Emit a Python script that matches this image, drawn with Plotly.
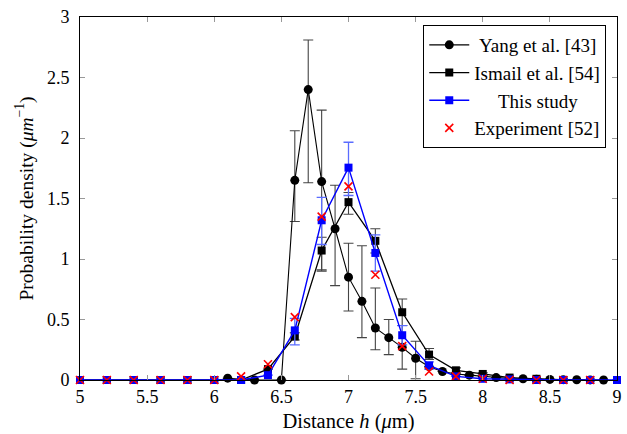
import plotly.graph_objects as go

# Yang et al. [43]
yang_x = [6.1, 6.3, 6.5, 6.6, 6.7, 6.8, 6.9, 7.0, 7.1, 7.2, 7.3, 7.4, 7.5, 7.6, 7.7,
          7.8, 7.9, 8.0, 8.1, 8.2, 8.3, 8.4, 8.5, 8.6, 8.7, 8.8, 8.9]
yang_y = [0.015, 0.0, 0.0, 1.65, 2.40, 1.64, 1.25, 0.85, 0.65, 0.43, 0.35, 0.27, 0.18, 0.11, 0.07,
          0.05, 0.04, 0.03, 0.02, 0.012, 0.01, 0.006, 0.005, 0.003, 0.002, 0.001, 0.0]
yang_err_up = [0, 0, 0, 0.41, 0.41, 0.59, 0.36, 0.28, 0.46, 0.33, 0.15, 0.18, 0.14, 0, 0,
               0, 0, 0, 0, 0, 0, 0, 0, 0, 0, 0, 0]
yang_err_dn = [0, 0, 0, 0.34, 0.77, 0.74, 0.47, 0.28, 0.30, 0.18, 0.14, 0.18, 0.17, 0, 0,
               0, 0, 0, 0, 0, 0, 0, 0, 0, 0, 0, 0]

# Ismail et al. [54]
ism_x = [5.0, 5.2, 5.4, 5.6, 5.8, 6.0, 6.2, 6.4, 6.6, 6.8, 7.0, 7.2, 7.4, 7.6, 7.8, 8.0,
         8.2, 8.4, 8.6, 8.8]
ism_y = [0, 0, 0, 0, 0, 0, 0.0, 0.09, 0.36, 1.07, 1.47, 1.15, 0.56, 0.21, 0.08, 0.05,
         0.02, 0.01, 0.0, 0.0]
ism_err_up = [0, 0, 0, 0, 0, 0, 0, 0, 0.03, 0.11, 0.08, 0.10, 0.11, 0.05, 0.02, 0.01,
              0, 0, 0, 0]
ism_err_dn = [0, 0, 0, 0, 0, 0, 0, 0, 0.03, 0.16, 0.10, 0.10, 0.11, 0.04, 0.02, 0.01,
              0, 0, 0, 0]

# This study
this_x = [5.0, 5.2, 5.4, 5.6, 5.8, 6.0, 6.2, 6.4, 6.6, 6.8, 7.0, 7.2, 7.4, 7.6, 7.8, 8.0,
          8.2, 8.4, 8.6, 8.8, 9.0]
this_y = [0, 0, 0, 0, 0, 0, 0.0, 0.04, 0.41, 1.32, 1.755, 1.05, 0.37, 0.12, 0.03, 0.01,
          0.005, 0.0, 0.0, 0.0, 0.0]
this_err_up = [0, 0, 0, 0, 0, 0, 0, 0, 0.10, 0.19, 0.21, 0.15, 0.08, 0.03, 0, 0,
               0, 0, 0, 0, 0]
this_err_dn = [0, 0, 0, 0, 0, 0, 0, 0, 0.12, 0.20, 0.23, 0.15, 0.08, 0.03, 0, 0,
               0, 0, 0, 0, 0]

# Experiment [52]
exp_x = [5.0, 5.2, 5.4, 5.6, 5.8, 6.0, 6.2, 6.4, 6.6, 6.8, 7.0, 7.2, 7.4, 7.6, 7.8, 8.0,
         8.2, 8.4, 8.6, 8.8]
exp_y = [0, 0, 0, 0, 0, 0, 0.03, 0.13, 0.52, 1.35, 1.60, 0.87, 0.28, 0.07, 0.03, 0.01,
         0.0, 0.0, 0.0, 0.0]

x_ticks = [5, 5.5, 6, 6.5, 7, 7.5, 8, 8.5, 9]
y_ticks = [0, 0.5, 1, 1.5, 2, 2.5, 3]

series_names = ["Yang et al. [43]", "Ismail et al. [54]", "This study", "Experiment [52]"]
# leading non-breaking spaces to emulate centred legend text
name_pad = [1, 0, 5, 0]

FONT = "Liberation Serif"

def label(i):
    return "&nbsp;" * name_pad[i] + series_names[i]

fig = go.Figure()
fig.add_trace(go.Scatter(
    x=yang_x, y=yang_y, mode="lines+markers", name=label(0),
    line=dict(color="black", width=1.1),
    marker=dict(symbol="circle", size=9, color="black"),
    error_y=dict(type="data", symmetric=False, array=yang_err_up, arrayminus=yang_err_dn,
                 color="#444444", thickness=1.1, width=5),
    cliponaxis=False))
fig.add_trace(go.Scatter(
    x=ism_x, y=ism_y, mode="lines+markers", name=label(1),
    line=dict(color="black", width=1.3),
    marker=dict(symbol="square", size=8, color="black"),
    error_y=dict(type="data", symmetric=False, array=ism_err_up, arrayminus=ism_err_dn,
                 color="#444444", thickness=1.1, width=5),
    cliponaxis=False))
fig.add_trace(go.Scatter(
    x=this_x, y=this_y, mode="lines+markers", name=label(2),
    line=dict(color="#0000ff", width=1.4),
    marker=dict(symbol="square", size=8, color="#0000ff"),
    error_y=dict(type="data", symmetric=False, array=this_err_up, arrayminus=this_err_dn,
                 color="#5a6cff", thickness=1.3, width=5),
    cliponaxis=False))
fig.add_trace(go.Scatter(
    x=exp_x, y=exp_y, mode="markers", name=label(3),
    marker=dict(symbol="x-thin", size=8, color="red", line=dict(color="red", width=1.6)),
    cliponaxis=False))

axis_common = dict(
    showgrid=False, zeroline=False, showline=True, linecolor="black", linewidth=1,
    mirror="allticks", ticks="inside", ticklen=5, tickcolor="#999999", tickwidth=1,
    tickfont=dict(family=FONT, size=18, color="black"),
)
fig.update_xaxes(range=[5, 9], tickvals=x_ticks, ticktext=[str(v) for v in x_ticks],
                 title=dict(text="Distance <i>h</i> (<i>μ</i>m)", font=dict(family=FONT, size=20.5, color="black"),
                            standoff=8),
                 **axis_common)
fig.update_yaxes(range=[0, 3], tickvals=y_ticks, ticktext=[str(v) for v in y_ticks],
                 ticklabelstandoff=6,
                 title=dict(text="Probability density (<i>μm</i><sup>−1</sup>)",
                            font=dict(family=FONT, size=19.5, color="black"), standoff=8),
                 **axis_common)

fig.update_layout(
    width=627, height=434,
    margin=dict(l=80, r=5, t=17, b=54),
    plot_bgcolor="white", paper_bgcolor="white",
    legend=dict(x=0.98, y=0.978, xanchor="right", yanchor="top",
                bgcolor="white", bordercolor="black", borderwidth=1,
                font=dict(family=FONT, size=19, color="black"),
                tracegroupgap=0, itemwidth=40),
)

fig.write_html("out.html")
